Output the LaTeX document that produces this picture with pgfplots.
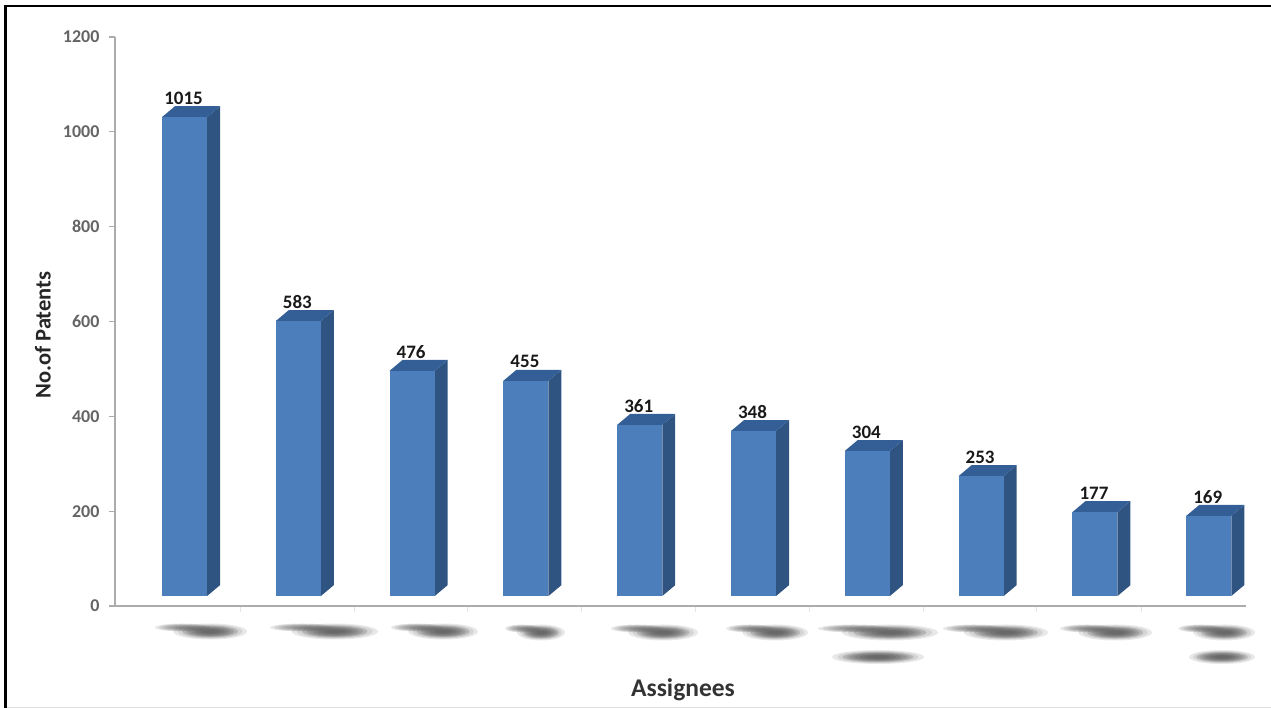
\documentclass[border=0pt]{standalone}
\usepackage{fontspec}
\setmainfont{Carlito}
\usepackage{pgfplots}
\pgfplotsset{compat=1.18}
\usepackage{pgfplotstable}

\definecolor{barfront}{RGB}{76,126,188}
\definecolor{barside}{RGB}{47,84,130}
\definecolor{bartop}{RGB}{52,95,150}
\definecolor{axisgrey}{RGB}{172,172,172}
\definecolor{ticktext}{RGB}{100,100,100}
\definecolor{smudge}{RGB}{80,80,80}

% x = bar position, top = height of the front face as drawn, value = printed label
\pgfplotstableread{
x top value
0 1031 1015
1 601 583
2 496 476
3 475 455
4 382 361
5 369 348
6 327 304
7 274 253
8 198 177
9 190 169
}\bardata

% one box: front, side and top face
\newcommand{\boxbar}[2]{%
  \pgfmathsetmacro{\xl}{#1-0.198}
  \pgfmathsetmacro{\xr}{#1+0.198}
  \pgfmathsetmacro{\xb}{#1+0.312}
  \pgfmathsetmacro{\xc}{#1-0.084}
  \pgfmathsetmacro{\yb}{#2+23}
  \addplot[fill=barside,draw=none] coordinates {(\xr,21) (\xb,44) (\xb,\yb) (\xr,#2)} --cycle;
  \addplot[fill=bartop,draw=none] coordinates {(\xl,#2) (\xc,\yb) (\xb,\yb) (\xr,#2)} --cycle;
  \addplot[fill=barfront,draw=none] coordinates {(\xl,21) (\xl,#2) (\xr,#2) (\xr,21)} --cycle;
}

% soft ellipse, pixel coordinates from the top left: centre x, centre y, half width, half height
\newcommand{\blob}[4]{%
  \foreach \s in {1,0.88,0.76,0.64,0.52,0.4,0.28} {
    \fill[smudge,opacity=0.13] ({(#1)*1pt},{(708-(#2))*1pt}) ellipse ({\s*(#3)*1pt} and {\s*(#4)*1pt});
  }
}
% blurred label smudge: thin to the upper left, thick to the lower right
\newcommand{\smear}[3]{%
  \pgfmathsetmacro{\w}{#2-#1}
  \blob{#1+0.3*\w}{#3-3.5}{0.3*\w}{4}
  \blob{#1+0.6*\w}{#3+0.5}{0.4*\w}{8}
  \blob{#1+0.6*\w}{#3+0.5}{0.3*\w}{6}
}

\begin{document}
\begin{tikzpicture}
\useasboundingbox (0,0) rectangle (1271pt,708pt);

\smear{155}{247}{631}
\smear{270}{378}{631}
\smear{391}{478}{631}
\smear{505}{565}{632}
\smear{611}{698}{632}
\smear{726}{808}{632}
\smear{818}{938}{632}
\smear{943}{1048}{632}
\smear{1060}{1152}{632}
\smear{1178}{1255}{632}
\blob{878}{657}{46}{7}
\blob{878}{657}{36}{5}
\blob{1222}{657}{33}{7}
\blob{1222}{657}{26}{5}

\begin{axis}[
    at={(115pt,102pt)},
    anchor=south west,
    scale only axis,
    width=1131pt,
    height=569pt,
    xmin=-0.611, xmax=9.328,
    ymin=0, ymax=1200,
    axis x line=bottom,
    axis y line=left,
    axis line style={axisgrey,line width=1.6pt,-},
    clip=false,
    xtick={0.49,1.49,2.49,3.49,4.49,5.49,6.49,7.49,8.41},
    xticklabels={},
    x tick style={black!10,line width=1pt},
    ytick={0,200,400,600,800,1000,1200},
    y tick style={axisgrey,line width=1.2pt},
    tick align=outside,
    major tick length=6pt,
    tick label style={font=\bfseries\fontsize{18}{18}\selectfont,text=ticktext},
    /pgf/number format/assume math mode=true,
    /pgf/number format/1000 sep={},
    yticklabel style={xshift=-6pt},
    xlabel={Assignees},
    ylabel={No.of Patents},
    xlabel style={font=\bfseries\fontsize{25.5}{25.5}\selectfont,text=black!80,
        at={(axis description cs:0.5022,-0.1476)},anchor=center},
    ylabel style={font=\bfseries\fontsize{22.5}{22.5}\selectfont,text=black!85,
        at={(axis description cs:-0.0637,0.476)},anchor=center},
]
\boxbar{0}{1031}
\boxbar{1}{601}
\boxbar{2}{496}
\boxbar{3}{475}
\boxbar{4}{382}
\boxbar{5}{369}
\boxbar{6}{327}
\boxbar{7}{274}
\boxbar{8}{198}
\boxbar{9}{190}
\addplot[
    draw=none,
    mark=none,
    point meta=explicit symbolic,
    nodes near coords,
    every node near coord/.style={
        font=\bfseries\fontsize{19}{19}\selectfont,text=black!90,anchor=center,yshift=19pt,xshift=-1pt},
] table[x=x,y=top,meta=value] {\bardata};
\end{axis}

\draw[black,line width=2.4pt] (5.5pt,0) -- (5.5pt,702pt) -- (1271pt,702pt);
\draw[black!12,line width=0.8pt] (7pt,0.6pt) -- (1271pt,0.6pt);
\end{tikzpicture}
\end{document}
